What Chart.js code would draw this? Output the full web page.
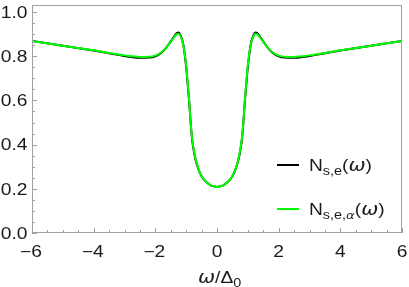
<!DOCTYPE html>
<html>
<head>
<meta charset="utf-8">
<script src="https://cdn.jsdelivr.net/npm/chart.js@4/dist/chart.umd.min.js"></script>
<style>
  html, body { margin: 0; padding: 0; background: #fff; overflow: hidden; }
  canvas { display: block; }
</style>
</head>
<body>
<canvas id="c" width="409" height="287"></canvas>
<script>
const FONT = '"Liberation Sans", Arial, sans-serif';
const GREEK = '"DejaVu Sans", sans-serif';
const STRETCH = 1.2; // the reference text is rendered wide

// omega / Delta_0 (left half, mirrored below)
const omegaHalf = [-6, -5, -4, -3.5, -3, -2.5, -2.2, -2, -1.8, -1.65, -1.5, -1.4, -1.3, -1.25, -1.2, -1.1,
  -1.0, -0.95, -0.9, -0.85, -0.8, -0.75, -0.7, -0.6, -0.5, -0.4, -0.3, -0.2, -0.1, 0];
const nseHalf = [0.869, 0.848, 0.826, 0.814, 0.801, 0.793, 0.794, 0.800, 0.816, 0.838, 0.867, 0.887, 0.905, 0.908, 0.900, 0.858,
  0.752, 0.672, 0.590, 0.490, 0.415, 0.370, 0.335, 0.288, 0.257, 0.238, 0.225, 0.216, 0.211, 0.208];
const nseAlphaHalf = [0.869, 0.848, 0.827, 0.815, 0.804, 0.797, 0.798, 0.803, 0.818, 0.838, 0.865, 0.884, 0.900, 0.902, 0.895, 0.855,
  0.760, 0.680, 0.595, 0.490, 0.420, 0.375, 0.338, 0.290, 0.258, 0.238, 0.225, 0.216, 0.211, 0.208];

const xTicks = [-6, -4, -2, 0, 2, 4, 6];
const yTicks = [0, 0.2, 0.4, 0.6, 0.8, 1.0];

function mirror(xs, ys) {
  const pts = xs.map((x, i) => ({ x, y: ys[i] }));
  const right = xs.slice(0, -1).reverse().map((x, i) => ({ x: -x, y: ys[xs.length - 2 - i] }));
  return pts.concat(right);
}

function setFont(ctx, p) {
  const size = p.size || (p.sub ? 12 : 16);
  ctx.font = (p.it ? 'italic ' : '') + size + 'px ' + (p.greek ? GREEK : FONT);
}

function richWidth(ctx, parts) {
  let w = 0;
  parts.forEach(p => { setFont(ctx, p); w += ctx.measureText(p.t).width; });
  return w * STRETCH;
}

// draw text parts horizontally stretched, x = left edge, y = baseline
function drawRich(ctx, x, y, parts) {
  ctx.save();
  ctx.translate(x, y);
  ctx.scale(STRETCH, 1);
  let cx = 0;
  parts.forEach(p => {
    setFont(ctx, p);
    ctx.fillText(p.t, cx, p.sub ? 4 : 0);
    cx += ctx.measureText(p.t).width;
  });
  ctx.restore();
}

const frame = {
  id: 'frame',
  afterDatasetsDraw(chart) {
    const { ctx, chartArea: a, scales: { x, y } } = chart;
    ctx.save();
    ctx.strokeStyle = '#a0a0a0';
    ctx.lineWidth = 1;
    ctx.strokeRect(a.left + 0.5, a.top + 0.5, a.right - a.left - 1, a.bottom - a.top - 1);
    ctx.beginPath();
    for (let v = -6; v <= 6.001; v += 0.5) {
      const px = Math.round(x.getPixelForValue(v)) + 0.5;
      const len = Math.abs(v % 2) < 1e-6 ? 5 : 3;
      ctx.moveTo(px, a.bottom);
      ctx.lineTo(px, a.bottom - len);
    }
    for (let v = 0; v <= 1.0001; v += 0.05) {
      const py = Math.round(y.getPixelForValue(v)) + 0.5;
      const major = Math.abs(v * 5 - Math.round(v * 5)) < 1e-6;
      ctx.moveTo(a.left, py);
      ctx.lineTo(a.left + (major ? 5 : 3), py);
    }
    ctx.stroke();
    ctx.restore();
  }
};

const labels = {
  id: 'labels',
  afterDraw(chart) {
    const { ctx, chartArea: a, scales: { x, y } } = chart;
    ctx.save();
    ctx.fillStyle = '#1a1a1a';
    ctx.textBaseline = 'alphabetic';

    // tick labels
    xTicks.forEach(v => {
      const parts = [{ t: String(v).replace('-', '\u2212') }];
      const w = richWidth(ctx, parts);
      drawRich(ctx, x.getPixelForValue(v) - w / 2 - (v < 0 ? 1 : 0), 257, parts);
    });
    yTicks.forEach(v => {
      const parts = [{ t: v.toFixed(1) }];
      const w = richWidth(ctx, parts);
      drawRich(ctx, 27.5 - w, y.getPixelForValue(v) + 5.8, parts);
    });

    // legend
    const items = [
      { color: '#000000', y: 165, parts: [{ t: 'N' }, { t: 's,e', sub: true }, { t: '(' }, { t: 'ω', it: true, greek: true, size: 17 }, { t: ')' }] },
      { color: '#00ff00', y: 209, parts: [{ t: 'N' }, { t: 's,e,', sub: true }, { t: 'α', sub: true, it: true, greek: true, size: 11 }, { t: '(' }, { t: 'ω', it: true, greek: true, size: 17 }, { t: ')' }] }
    ];
    items.forEach(it => {
      ctx.strokeStyle = it.color;
      ctx.lineWidth = 2;
      ctx.beginPath();
      ctx.moveTo(277, it.y);
      ctx.lineTo(299, it.y);
      ctx.stroke();
      drawRich(ctx, 309, it.y + 6, it.parts);
    });

    // x axis title
    const title = [{ t: 'ω', it: true, greek: true, size: 17 }, { t: '/Δ' }, { t: '0', sub: true }];
    drawRich(ctx, 198, 283, title);
    ctx.restore();
  }
};

new Chart(document.getElementById('c'), {
  type: 'line',
  data: {
    datasets: [
      {
        label: 'N_s,e,α(ω)',
        data: mirror(omegaHalf, nseAlphaHalf),
        borderColor: '#00ff00',
        borderWidth: 2,
        pointRadius: 0,
        cubicInterpolationMode: 'monotone',
        order: 1
      },
      {
        label: 'N_s,e(ω)',
        data: mirror(omegaHalf, nseHalf),
        borderColor: '#000000',
        borderWidth: 2,
        pointRadius: 0,
        cubicInterpolationMode: 'monotone',
        order: 2
      }
    ]
  },
  options: {
    responsive: false,
    animation: false,
    devicePixelRatio: 1,
    layout: { padding: { top: 5, right: 7, left: 0, bottom: 0 } },
    plugins: { legend: { display: false }, tooltip: { enabled: false } },
    scales: {
      x: {
        type: 'linear',
        min: -6, max: 6,
        grid: { display: false },
        border: { display: false },
        ticks: { display: false },
        afterFit: s => { s.height = 54; }
      },
      y: {
        min: 0, max: 1.032,
        grid: { display: false },
        border: { display: false },
        ticks: { display: false },
        afterFit: s => { s.width = 32; }
      }
    }
  },
  plugins: [frame, labels]
});
</script>
</body>
</html>
